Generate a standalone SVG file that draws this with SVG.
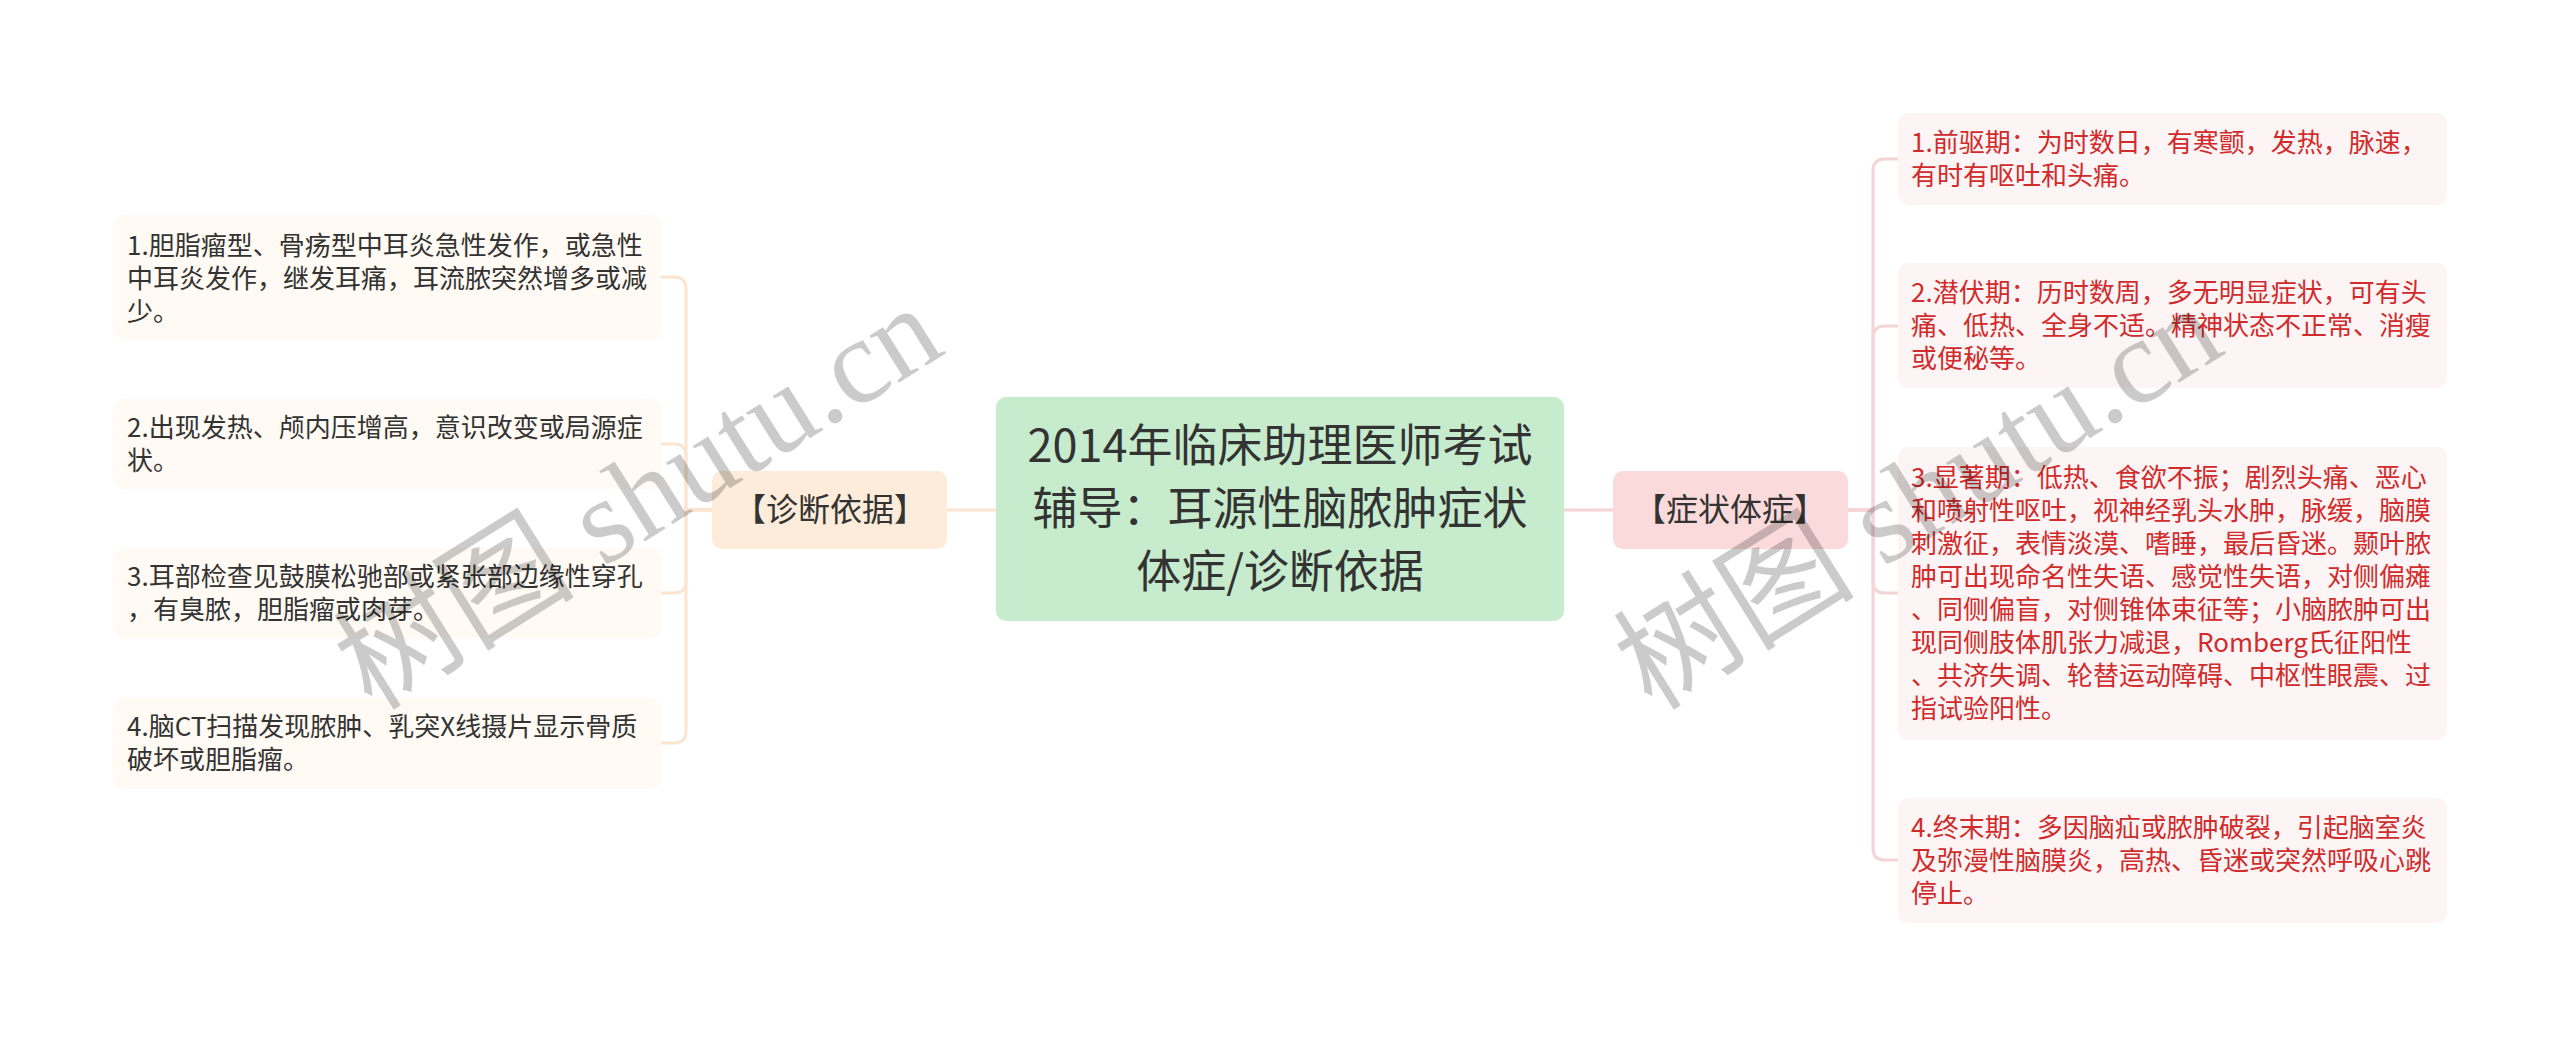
<svg xmlns="http://www.w3.org/2000/svg" width="2560" height="1037" viewBox="0 0 2560 1037">
<style>
.t{font-family:"Noto Sans CJK SC","Noto Sans",sans-serif}
.leafL{fill:#fffaf4}
.leafR{fill:#fdf5f5}
.txL{font-size:26px;fill:#333}
.txR{font-size:26px;fill:#d12b2b}
.mid{font-size:32px;fill:#333;text-anchor:middle}
.lc{fill:none;stroke:#fbe5d0;stroke-width:3}
.rc{fill:none;stroke:#f6d3d4;stroke-width:3}
.wm{font-family:"Liberation Serif","Noto Sans CJK SC",serif;font-size:121px;fill:#000;opacity:0.2}
</style>
<rect width="2560" height="1037" fill="#fff"/>
<g id="connectors">
<path class="lc" d="M947 510H996"/>
<path class="lc" d="M712 510H686V289Q686 277 674 277H661"/>
<path class="lc" d="M712 510H686V456Q686 444 674 444H661"/>
<path class="lc" d="M712 510H686V581Q686 593 674 593H661"/>
<path class="lc" d="M712 510H686V731Q686 743 674 743H661"/>
<path class="rc" d="M1564 510H1613"/>
<path class="rc" d="M1848 510H1873V171Q1873 159 1885 159H1898"/>
<path class="rc" d="M1848 510H1873V338Q1873 326 1885 326H1898"/>
<path class="rc" d="M1848 510H1873V581Q1873 593 1885 593H1898"/>
<path class="rc" d="M1848 510H1873V848Q1873 860 1885 860H1898"/>
</g>
<g id="root">
<rect x="996" y="397" width="568" height="224" rx="10" fill="#c6ebcd"/>
<text class="t" font-size="45" fill="#333" text-anchor="middle"><tspan x="1280" y="462">2014年临床助理医师考试</tspan><tspan x="1280" y="525">辅导：耳源性脑脓肿症状</tspan><tspan x="1280" y="588">体症/诊断依据</tspan></text>
</g>
<g id="diag">
<rect x="712" y="471" width="235" height="78" rx="10" fill="#fdecd9"/>
<text class="t mid" x="830" y="521">【诊断依据】</text>
</g>
<g id="symp">
<rect x="1613" y="471" width="235" height="78" rx="10" fill="#fadada"/>
<text class="t mid" x="1730" y="521">【症状体症】</text>
</g>
<g id="d1">
<rect class="leafL" x="113" y="215" width="548" height="125" rx="10"/>
<text class="t txL"><tspan x="127" y="255">1.胆脂瘤型、骨疡型中耳炎急性发作，或急性</tspan><tspan x="127" y="288">中耳炎发作，继发耳痛，耳流脓突然增多或减</tspan><tspan x="127" y="321">少。</tspan></text>
</g>
<g id="d2">
<rect class="leafL" x="113" y="399" width="548" height="90" rx="10"/>
<text class="t txL"><tspan x="127" y="437">2.出现发热、颅内压增高，意识改变或局源症</tspan><tspan x="127" y="470">状。</tspan></text>
</g>
<g id="d3">
<rect class="leafL" x="113" y="548" width="548" height="90" rx="10"/>
<text class="t txL"><tspan x="127" y="586">3.耳部检查见鼓膜松驰部或紧张部边缘性穿孔</tspan><tspan x="127" y="619">，有臭脓，胆脂瘤或肉芽。</tspan></text>
</g>
<g id="d4">
<rect class="leafL" x="113" y="698" width="548" height="91" rx="10"/>
<text class="t txL"><tspan x="127" y="736">4.脑CT扫描发现脓肿、乳突X线摄片显示骨质</tspan><tspan x="127" y="769">破坏或胆脂瘤。</tspan></text>
</g>
<g id="s1">
<rect class="leafR" x="1898" y="113" width="549" height="92" rx="10"/>
<text class="t txR"><tspan x="1911" y="152">1.前驱期：为时数日，有寒颤，发热，脉速，</tspan><tspan x="1911" y="185">有时有呕吐和头痛。</tspan></text>
</g>
<g id="s2">
<rect class="leafR" x="1898" y="263" width="549" height="125" rx="10"/>
<text class="t txR"><tspan x="1911" y="302">2.潜伏期：历时数周，多无明显症状，可有头</tspan><tspan x="1911" y="335">痛、低热、全身不适。精神状态不正常、消瘦</tspan><tspan x="1911" y="368">或便秘等。</tspan></text>
</g>
<g id="s3">
<rect class="leafR" x="1898" y="447" width="549" height="293" rx="10"/>
<text class="t txR"><tspan x="1911" y="487">3.显著期：低热、食欲不振；剧烈头痛、恶心</tspan><tspan x="1911" y="520">和喷射性呕吐，视神经乳头水肿，脉缓，脑膜</tspan><tspan x="1911" y="553">刺激征，表情淡漠、嗜睡，最后昏迷。颞叶脓</tspan><tspan x="1911" y="586">肿可出现命名性失语、感觉性失语，对侧偏瘫</tspan><tspan x="1911" y="619">、同侧偏盲，对侧锥体束征等；小脑脓肿可出</tspan><tspan x="1911" y="652">现同侧肢体肌张力减退，Romberg氏征阳性</tspan><tspan x="1911" y="685">、共济失调、轮替运动障碍、中枢性眼震、过</tspan><tspan x="1911" y="718">指试验阳性。</tspan></text>
</g>
<g id="s4">
<rect class="leafR" x="1898" y="798" width="549" height="125" rx="10"/>
<text class="t txR"><tspan x="1911" y="837">4.终末期：多因脑疝或脓肿破裂，引起脑室炎</tspan><tspan x="1911" y="870">及弥漫性脑膜炎，高热、昏迷或突然呼吸心跳</tspan><tspan x="1911" y="903">停止。</tspan></text>
</g>
<g id="watermark">
<text class="wm" transform="translate(372 712) rotate(-32)">树图 shutu.cn</text>
<text class="wm" transform="translate(1652 712) rotate(-32)">树图 shutu.cn</text>
</g>
</svg>
